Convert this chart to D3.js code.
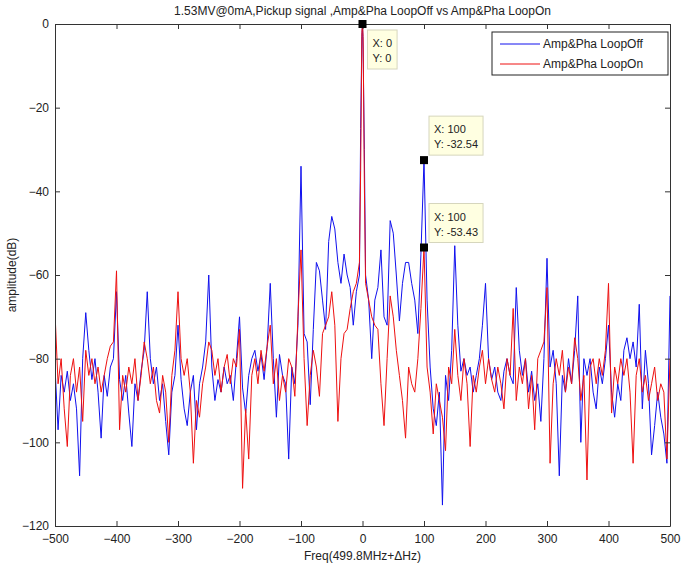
<!DOCTYPE html>
<html>
<head>
<meta charset="utf-8">
<script src="https://cdn.jsdelivr.net/npm/d3@7"></script>
<style>
  body { margin: 0; background: #fff; }
  svg text { font-family: "Liberation Sans", Arial, sans-serif; }
</style>
</head>
<body>
<svg id="chart" width="685" height="569"></svg>
<script>
// ---------- data ----------
const title = "1.53MV@0mA,Pickup signal ,Amp&Pha LoopOff vs Amp&Pha LoopOn";
const xLabel = "Freq(499.8MHz+\u0394Hz)";
const yLabel = "amplitude(dB)";
const seriesNames = ["Amp&Pha LoopOff", "Amp&Pha LoopOn"];
const xTicks = [-500, -400, -300, -200, -100, 0, 100, 200, 300, 400, 500];
const yTicks = [0, -20, -40, -60, -80, -100, -120];

// frequency grid (Hz): 5 Hz steps, plus finer points around the carrier
const freqLeft = d3.range(-500, 0, 5);
const freqCenter = [-3, -1, 0, 1, 3];
const freqRight = d3.range(5, 505, 5);
const freqs = [...freqLeft, ...freqCenter, ...freqRight];

const loopOffLeft = [
  -82, -97, -84, -88, -83, -90, -86, -92, -108, -80,
  -69, -78, -85, -80, -88, -99, -84, -89, -82, -80,
  -64, -85, -90, -84, -93, -101, -86, -90, -83, -78,
  -64, -80, -86, -82, -90, -86, -95, -103, -88, -84,
  -72, -85, -92, -96, -88, -84, -97, -86, -82, -76,
  -60, -82, -90, -85, -88, -82, -86, -84, -90, -80,
  -70, -87, -93, -84, -80, -78, -83, -79, -85, -77,
  -62, -80, -94, -79, -84, -86, -104, -82, -86, -72,
  -34, -74, -76, -91, -73, -57, -59, -66, -73, -52,
  -46, -49, -57, -62, -55, -60, -63, -72, -64, -60
];
const loopOffCenter = [-25, -3, 0, -6, -30];
const loopOffRight = [
  -60, -66, -80, -66, -63, -54, -70, -72, -47, -50,
  -60, -71, -62, -57, -57, -62, -66, -74, -55, -32.54,
  -66, -82, -92, -96, -88, -115, -84, -90, -78, -53,
  -72, -83, -80, -84, -82, -88, -84, -80, -72, -62,
  -80, -85, -82, -88, -90, -83, -80, -84, -86, -63,
  -78, -84, -80, -88, -83, -90, -86, -95, -80, -56,
  -82, -78, -86, -108, -84, -88, -80, -86, -78, -65,
  -100, -80, -84, -80, -88, -92, -82, -86, -80, -72,
  -88, -94, -86, -90, -78, -75, -80, -76, -82, -67,
  -92, -78, -86, -103, -96, -88, -94, -98, -105, -65
];

const loopOnLeft = [
  -69, -86, -80, -92, -101, -84, -80, -88, -82, -95,
  -78, -84, -80, -86, -82, -88, -84, -80, -77, -76,
  -59, -97, -84, -88, -82, -86, -80, -90, -84, -76,
  -80, -86, -82, -90, -93, -84, -88, -100, -84, -78,
  -64, -80, -84, -80, -88, -105, -90, -94, -86, -82,
  -76, -78, -84, -80, -88, -82, -79, -86, -80, -82,
  -73, -111, -92, -104, -84, -80, -86, -78, -83, -77,
  -72, -86, -80, -90, -84, -88, -80, -82, -89, -70,
  -54, -80, -96, -84, -78, -82, -89, -74, -72, -70,
  -64, -72, -95, -80, -74, -73, -68, -64, -62, -57
];
const loopOnCenter = [-35, -2, 0, -3, -38];
const loopOnRight = [
  -62, -66, -70, -72, -73, -86, -96, -80, -65, -70,
  -78, -84, -90, -99, -82, -86, -88, -80, -68, -53.43,
  -82, -88, -98, -86, -90, -94, -102, -82, -86, -73,
  -84, -90, -80, -86, -101, -84, -88, -82, -78, -86,
  -80, -85, -88, -82, -86, -92, -80, -84, -68, -90,
  -82, -86, -80, -92, -84, -97, -80, -78, -76, -63,
  -105, -86, -80, -84, -78, -88, -82, -86, -75, -80,
  -90, -84, -109, -82, -80, -86, -80, -84, -78, -62,
  -93, -82, -86, -80, -84, -80, -88, -105, -84, -80,
  -88, -84, -90, -86, -82, -90, -86, -88, -104, -80
];

const loopOff = [...loopOffLeft, ...loopOffCenter, ...loopOffRight];
const loopOn = [...loopOnLeft, ...loopOnCenter, ...loopOnRight];

// data tips: [x, y]
const tipX = [0, 100, 100];
const tipY = [0, -32.54, -53.43];

// ---------- layout ----------
const svg = d3.select("#chart");
const W = 685, H = 569;
const m = { left: 55, right: 15, top: 24, bottom: 43 };
const x0 = m.left, x1 = W - m.right, y0 = m.top, y1 = H - m.bottom;

svg.append("rect").attr("width", W).attr("height", H).attr("fill", "#fff");

const x = d3.scaleLinear().domain([-500, 500]).range([x0, x1]);
const y = d3.scaleLinear().domain([-120, 0]).range([y1, y0]);

const colors = ["#1010ee", "#ee1010"];

svg.append("defs").append("clipPath").attr("id", "clip")
  .append("rect").attr("x", x0).attr("y", y0 - 1).attr("width", x1 - x0).attr("height", y1 - y0 + 1);

const line = d3.line().x((d, i) => x(freqs[i])).y(d => y(d));

const plot = svg.append("g").attr("clip-path", "url(#clip)");
[loopOff, loopOn].forEach((s, k) => {
  plot.append("path").datum(s)
    .attr("d", line)
    .attr("fill", "none")
    .attr("stroke", colors[k])
    .attr("stroke-width", 1)
    .attr("stroke-linejoin", "miter");
});

// ---------- axes ----------
const axisColor = "#333";
const fontSize = 12;

const gB = svg.append("g").attr("transform", `translate(0,${y1})`)
  .call(d3.axisBottom(x).tickValues(xTicks).tickSizeInner(-5).tickSizeOuter(0).tickPadding(8));
const gT = svg.append("g").attr("transform", `translate(0,${y0})`)
  .call(d3.axisTop(x).tickValues(xTicks).tickSizeInner(-5).tickSizeOuter(0).tickFormat(""));
const gL = svg.append("g").attr("transform", `translate(${x0},0)`)
  .call(d3.axisLeft(y).tickValues(yTicks).tickSizeInner(-5).tickSizeOuter(0).tickPadding(6));
const gR = svg.append("g").attr("transform", `translate(${x1},0)`)
  .call(d3.axisRight(y).tickValues(yTicks).tickSizeInner(-5).tickSizeOuter(0).tickFormat(""));

[gB, gT, gL, gR].forEach(g => {
  g.selectAll("path.domain").attr("stroke", axisColor);
  g.selectAll(".tick line").attr("stroke", axisColor);
  g.selectAll("text").attr("fill", "#222").attr("font-size", fontSize)
    .style("font-family", "Liberation Sans, Arial, sans-serif");
});

// title and axis labels
svg.append("text").attr("x", (x0 + x1) / 2).attr("y", 15)
  .attr("text-anchor", "middle").attr("font-size", 12).attr("fill", "#222")
  .text(title);
svg.append("text").attr("x", (x0 + x1) / 2).attr("y", 560)
  .attr("text-anchor", "middle").attr("font-size", 12).attr("fill", "#222")
  .text(xLabel);
svg.append("text")
  .attr("transform", `translate(16,${(y0 + y1) / 2}) rotate(-90)`)
  .attr("text-anchor", "middle").attr("font-size", 12).attr("fill", "#222")
  .text(yLabel);

// ---------- legend ----------
const lg = svg.append("g");
lg.append("rect").attr("x", 492).attr("y", 32).attr("width", 176).attr("height", 43)
  .attr("fill", "#fff").attr("stroke", "#222").attr("stroke-width", 1);
seriesNames.forEach((n, k) => {
  const ly = 44 + k * 20;
  lg.append("line").attr("x1", 500).attr("x2", 540).attr("y1", ly).attr("y2", ly)
    .attr("stroke", colors[k]).attr("stroke-width", 1);
  lg.append("text").attr("x", 543).attr("y", ly + 4).attr("font-size", 12).attr("fill", "#222").text(n);
});

// ---------- data tips ----------
const tipOffsets = [[5, 6], [5, -44], [5, -44]];
tipX.forEach((tx, i) => {
  const px = x(tx), py = y(tipY[i]);
  const g = svg.append("g");
  const bx = px + tipOffsets[i][0], by = py + tipOffsets[i][1];
  const rect = g.append("rect").attr("x", bx).attr("y", by).attr("height", 39)
    .attr("fill", "#ffffe1").attr("stroke", "#d6d6bd").attr("stroke-width", 1);
  const t1 = g.append("text").attr("x", bx + 5).attr("y", by + 17).attr("font-size", 11).attr("fill", "#222")
    .text("X: " + tx);
  const t2 = g.append("text").attr("x", bx + 5).attr("y", by + 32).attr("font-size", 11).attr("fill", "#222")
    .text("Y: " + tipY[i]);
  const w = Math.max(t1.node().getComputedTextLength(), t2.node().getComputedTextLength()) + 10;
  rect.attr("width", w);
  svg.append("rect").attr("x", px - 4).attr("y", py - 4).attr("width", 8).attr("height", 8).attr("fill", "#000");
});
</script>
</body>
</html>
